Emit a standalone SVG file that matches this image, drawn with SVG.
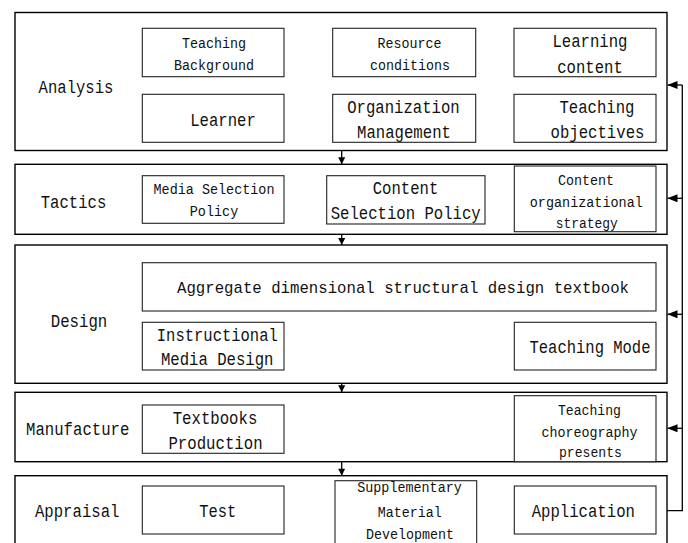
<svg xmlns="http://www.w3.org/2000/svg" width="688" height="543" viewBox="0 0 688 543">
<style>
.stage{fill:#fff;stroke:#000;stroke-width:1.4}
.box{fill:#fff;stroke:#222;stroke-width:1.1}
text{font-family:"Liberation Mono","DejaVu Sans Mono",monospace;fill:#111;text-anchor:middle}
.L{font-size:18px}
.S{font-size:15.5px}
.ln{stroke:#000;stroke-width:1.3;fill:none}
</style>
<defs>
<marker id="ah" viewBox="0 0 10 8" refX="10" refY="4" markerWidth="10" markerHeight="8" markerUnits="userSpaceOnUse" orient="auto">
<path d="M0,0 L10,4 L0,8 Z" fill="#000"/>
</marker>
<marker id="dh" viewBox="0 0 8 8" refX="8" refY="4" markerWidth="8" markerHeight="7" markerUnits="userSpaceOnUse" orient="auto">
<path d="M0,0 L8,4 L0,8 Z" fill="#000"/>
</marker>
</defs>

<g id="analysis">
<rect class="stage" x="15" y="12.5" width="652" height="138"/>
<text class="L" x="76" y="93" textLength="74.8" lengthAdjust="spacingAndGlyphs">Analysis</text>
</g>
<g id="teaching-background">
<rect class="box" x="142.3" y="28.3" width="141.7" height="48.4"/>
<text class="S" x="214" y="48.3" textLength="64" lengthAdjust="spacingAndGlyphs">Teaching</text>
<text class="S" x="214" y="70" textLength="80" lengthAdjust="spacingAndGlyphs">Background</text>
</g>
<g id="learner">
<rect class="box" x="142.3" y="94.3" width="141.7" height="48"/>
<text class="L" x="223" y="126" textLength="65.5" lengthAdjust="spacingAndGlyphs">Learner</text>
</g>
<g id="resource-conditions">
<rect class="box" x="332.7" y="28.3" width="143" height="48.4"/>
<text class="S" x="409.5" y="48.3" textLength="64" lengthAdjust="spacingAndGlyphs">Resource</text>
<text class="S" x="410" y="69.5" textLength="80" lengthAdjust="spacingAndGlyphs">conditions</text>
</g>
<g id="organization-management">
<rect class="box" x="332.7" y="94.3" width="143" height="48"/>
<text class="L" x="403.5" y="113.3" textLength="112.5" lengthAdjust="spacingAndGlyphs">Organization</text>
<text class="L" x="404" y="138.3" textLength="93.8" lengthAdjust="spacingAndGlyphs">Management</text>
</g>
<g id="learning-content">
<rect class="box" x="514" y="28.3" width="142" height="48.4"/>
<text class="L" x="590" y="46.7" textLength="75" lengthAdjust="spacingAndGlyphs">Learning</text>
<text class="L" x="590" y="72.7" textLength="65.5" lengthAdjust="spacingAndGlyphs">content</text>
</g>
<g id="teaching-objectives">
<rect class="box" x="514" y="94.3" width="142" height="48"/>
<text class="L" x="597" y="113.3" textLength="75" lengthAdjust="spacingAndGlyphs">Teaching</text>
<text class="L" x="597.5" y="138.3" textLength="93.8" lengthAdjust="spacingAndGlyphs">objectives</text>
</g>

<g id="tactics">
<rect class="stage" x="15" y="164.3" width="652" height="70"/>
<text class="L" x="73.5" y="208.3" textLength="65.5" lengthAdjust="spacingAndGlyphs">Tactics</text>
</g>
<g id="media-selection-policy">
<rect class="box" x="142.3" y="175.7" width="141.7" height="47.6"/>
<text class="S" x="214" y="194.3" textLength="121" lengthAdjust="spacingAndGlyphs">Media Selection</text>
<text class="S" x="214" y="216" textLength="48.5" lengthAdjust="spacingAndGlyphs">Policy</text>
</g>
<g id="content-selection-policy">
<rect class="box" x="326.7" y="175.7" width="158.3" height="48.3"/>
<text class="L" x="405.5" y="194.3" textLength="65.5" lengthAdjust="spacingAndGlyphs">Content</text>
<text class="L" x="405.7" y="219.3" textLength="150" lengthAdjust="spacingAndGlyphs">Selection Policy</text>
</g>
<g id="content-organizational-strategy">
<rect class="box" x="514.3" y="166" width="141.7" height="65.7"/>
<text class="S" x="586" y="185" textLength="56" lengthAdjust="spacingAndGlyphs">Content</text>
<text class="S" x="586.3" y="206.7" textLength="113" lengthAdjust="spacingAndGlyphs">organizational</text>
<text class="S" x="586.7" y="228.3" textLength="62" lengthAdjust="spacingAndGlyphs">strategy</text>
</g>

<g id="design">
<rect class="stage" x="15" y="245" width="652" height="138.3"/>
<text class="L" x="79" y="326.7" textLength="56.5" lengthAdjust="spacingAndGlyphs">Design</text>
</g>
<g id="aggregate-textbook">
<rect class="box" x="142.3" y="262.7" width="513.7" height="48.3"/>
<text x="403" y="293.3" font-size="17" textLength="452" lengthAdjust="spacingAndGlyphs">Aggregate dimensional structural design textbook</text>
</g>
<g id="instructional-media-design">
<rect class="box" x="142.3" y="322.3" width="141.7" height="47.7"/>
<text class="L" x="217.3" y="340.7" textLength="121" lengthAdjust="spacingAndGlyphs">Instructional</text>
<text class="L" x="217.2" y="365" textLength="112.5" lengthAdjust="spacingAndGlyphs">Media Design</text>
</g>
<g id="teaching-mode">
<rect class="box" x="514.3" y="322.3" width="141.7" height="47.7"/>
<text class="L" x="590" y="353.3" textLength="121" lengthAdjust="spacingAndGlyphs">Teaching Mode</text>
</g>

<g id="manufacture">
<rect class="stage" x="15" y="392.3" width="652" height="69.4"/>
<text class="L" x="77.7" y="435" textLength="103.3" lengthAdjust="spacingAndGlyphs">Manufacture</text>
</g>
<g id="textbooks-production">
<rect class="box" x="142.3" y="405" width="141.7" height="48.3"/>
<text class="L" x="215" y="424" textLength="84.6" lengthAdjust="spacingAndGlyphs">Textbooks</text>
<text class="L" x="215.5" y="449.3" textLength="94.2" lengthAdjust="spacingAndGlyphs">Production</text>
</g>
<g id="teaching-choreography-presents">
<rect class="box" x="514.3" y="395.7" width="141.7" height="66"/>
<text class="S" x="589.5" y="415" textLength="63" lengthAdjust="spacingAndGlyphs">Teaching</text>
<text class="S" x="589.5" y="436.7" textLength="96" lengthAdjust="spacingAndGlyphs">choreography</text>
<text class="S" x="590.5" y="457.3" textLength="63" lengthAdjust="spacingAndGlyphs">presents</text>
</g>

<g id="appraisal">
<rect class="stage" x="15" y="475.7" width="652" height="90"/>
<text class="L" x="77.2" y="517.3" textLength="84.5" lengthAdjust="spacingAndGlyphs">Appraisal</text>
</g>
<g id="test">
<rect class="box" x="142.3" y="486" width="141.7" height="48"/>
<text class="L" x="217.7" y="517.3" textLength="37" lengthAdjust="spacingAndGlyphs">Test</text>
</g>
<g id="supplementary-material-development">
<rect class="box" x="335" y="480.7" width="141.7" height="80"/>
<text class="S" x="409.5" y="492.3" textLength="104.5" lengthAdjust="spacingAndGlyphs">Supplementary</text>
<text class="S" x="409.7" y="517.3" textLength="64" lengthAdjust="spacingAndGlyphs">Material</text>
<text class="S" x="410" y="538.5" textLength="88" lengthAdjust="spacingAndGlyphs">Development</text>
</g>
<g id="application">
<rect class="box" x="514.3" y="486" width="141.7" height="48"/>
<text class="L" x="583.3" y="517.3" textLength="103.3" lengthAdjust="spacingAndGlyphs">Application</text>
</g>

<g id="connectors">
<line class="ln" x1="341.7" y1="150.5" x2="341.7" y2="164.3" marker-end="url(#dh)"/>
<line class="ln" x1="341.7" y1="234.3" x2="341.7" y2="245" marker-end="url(#dh)"/>
<line class="ln" x1="341.7" y1="383.3" x2="341.7" y2="392.3" marker-end="url(#dh)"/>
<line class="ln" x1="341.7" y1="461.7" x2="341.7" y2="475.7" marker-end="url(#dh)"/>
<polyline class="ln" points="667,510.7 682.3,510.7 682.3,85"/>
<line class="ln" x1="682.3" y1="85" x2="667.5" y2="85" marker-end="url(#ah)"/>
<line class="ln" x1="682.3" y1="198.3" x2="667.5" y2="198.3" marker-end="url(#ah)"/>
<line class="ln" x1="682.3" y1="314.3" x2="667.5" y2="314.3" marker-end="url(#ah)"/>
<line class="ln" x1="682.3" y1="428.3" x2="667.5" y2="428.3" marker-end="url(#ah)"/>
</g>
</svg>
